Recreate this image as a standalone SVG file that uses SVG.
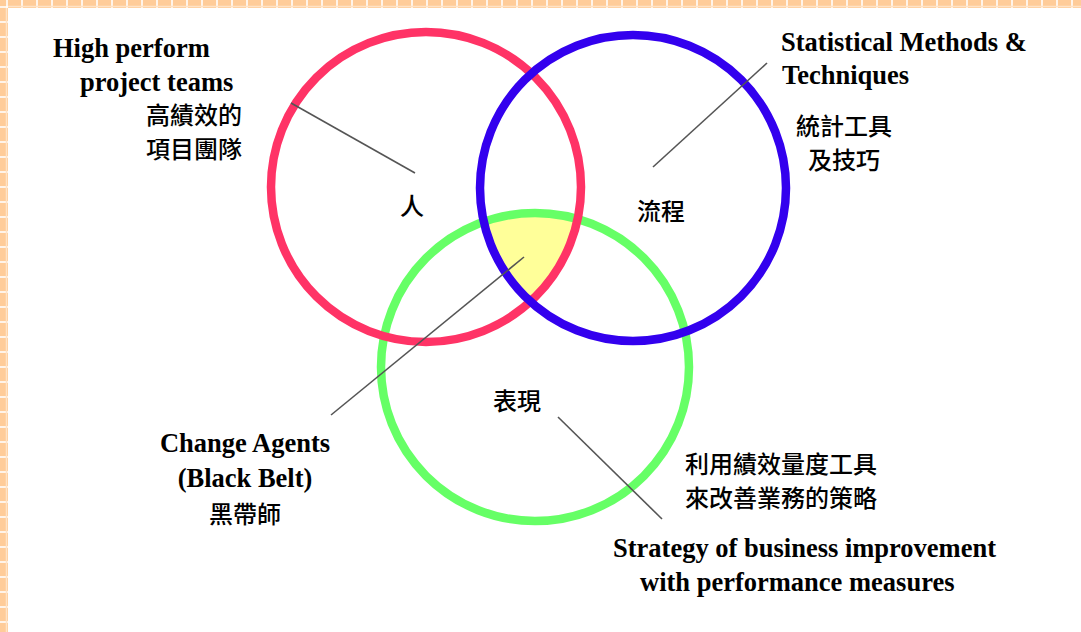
<svg xmlns="http://www.w3.org/2000/svg" width="1081" height="632" viewBox="0 0 1081 632">
<style>
.en{font-family:"Liberation Serif","Times New Roman",serif;font-weight:bold;font-size:26.5px;fill:#000}
.zh{font-family:"Noto Sans CJK TC","Noto Sans CJK SC",sans-serif;font-size:24px;font-weight:500;fill:#000}
.ring{fill:none;stroke-width:8.5}
.conn{stroke:#555;stroke-width:1.6;fill:none}
</style>
<defs>
<clipPath id="cb"><circle cx="633" cy="188" r="153"/></clipPath>
<clipPath id="cg"><circle cx="535" cy="367" r="154"/></clipPath>
<clipPath id="hp"><rect x="0" y="0" width="213" height="80"/></clipPath>
</defs>
<rect width="1081" height="632" fill="#fff"/>
<g id="border">
<rect x="0" y="0" width="1081" height="8" fill="#FFCC99"/>
<rect x="0" y="0" width="8" height="632" fill="#FFCC99"/>
<line x1="0" y1="4" x2="1081" y2="4" stroke="#fff" stroke-width="8" stroke-dasharray="2 13" stroke-dashoffset="-6" opacity="0.8"/>
<line x1="4" y1="0" x2="4" y2="632" stroke="#fff" stroke-width="8" stroke-dasharray="2 13" stroke-dashoffset="-6" opacity="0.8"/>
<line x1="8" y1="6.5" x2="1081" y2="6.5" stroke="#FFE3C6" stroke-width="1.5"/>
<line x1="6.5" y1="8" x2="6.5" y2="632" stroke="#FFE3C6" stroke-width="1.5"/>
</g>
<g id="overlap">
<g clip-path="url(#cb)"><g clip-path="url(#cg)"><circle cx="426" cy="187" r="155" fill="#FFFF99"/></g></g>
</g>
<g id="node-performance"><circle class="ring" cx="535" cy="367" r="154" stroke="#66FF66"/><text class="zh" x="493" y="410">表現</text></g>
<g id="node-people"><circle class="ring" cx="426" cy="187" r="155" stroke="#FF3366"/><text class="zh" x="400" y="215">人</text></g>
<g id="node-process"><circle class="ring" cx="633" cy="188" r="153" stroke="#3300EE"/><text class="zh" x="637" y="220">流程</text></g>
<g id="connectors">
<line class="conn" x1="291" y1="103" x2="415" y2="173"/>
<line class="conn" x1="653" y1="167" x2="767" y2="63"/>
<line class="conn" x1="524" y1="257" x2="331" y2="415"/>
<line class="conn" x1="558" y1="417" x2="662" y2="519"/>
</g>
<g id="label-teams">
<text class="en" x="53" y="57" clip-path="url(#hp)">High perform</text>
<text class="en" x="80" y="91">project teams</text>
<text class="zh" x="146" y="124">高績效的</text>
<text class="zh" x="146" y="158">項目團隊</text>
</g>
<g id="label-stats">
<text class="en" x="781" y="51">Statistical Methods &amp;</text>
<text class="en" x="782" y="84">Techniques</text>
<text class="zh" x="796" y="135">統計工具</text>
<text class="zh" x="808" y="169">及技巧</text>
</g>
<g id="label-agents">
<text class="en" x="245" y="452" text-anchor="middle">Change Agents</text>
<text class="en" x="245" y="487" text-anchor="middle">(Black Belt)</text>
<text class="zh" x="245" y="523" text-anchor="middle">黑帶師</text>
</g>
<g id="label-strategy">
<text class="zh" x="685" y="473">利用績效量度工具</text>
<text class="zh" x="685" y="507">來改善業務的策略</text>
<text class="en" x="613" y="557">Strategy of business improvement</text>
<text class="en" x="640" y="591">with performance measures</text>
</g>
</svg>
